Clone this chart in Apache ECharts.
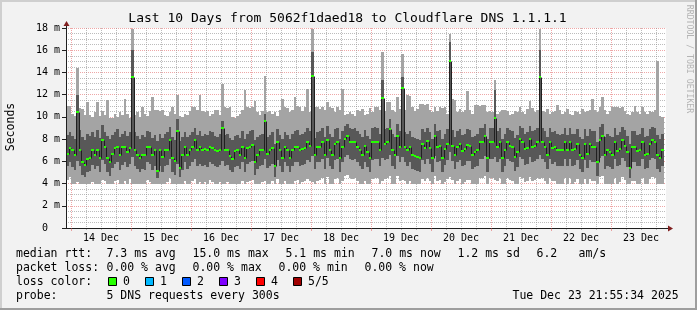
<!DOCTYPE html>
<html><head><meta charset="utf-8">
<script src="https://cdn.jsdelivr.net/npm/echarts@6/dist/echarts.min.js"></script>
<style>html,body{margin:0;padding:0;background:#f2f2f2}#c{width:697px;height:310px}</style>
</head><body><div id="c"></div>
<script>
// ---- data: hourly bins, bin i covers hours [firstBinHour+i, firstBinHour+i+1] relative to 14 Dec 00:00
const firstBinHour = -2;
const dayLabels = ['14 Dec','15 Dec','16 Dec','17 Dec','18 Dec','19 Dec','20 Dec','21 Dec','22 Dec','23 Dec'];

// ping 1 (min), ping 2, median, ping 4, ping 5 (max) in ms
const minRtt = [
4.3,4.6,4.0,4.0,4.1,4.0,4.0,4.0,4.0,4.0, 4.1,4.0,4.0,4.0,4.3,4.2,4.0,4.0,4.0,4.2,
4.3,4.0,4.0,4.2,4.0,4.4,4.0,4.0,4.0,4.0, 4.0,4.0,4.3,4.1,4.0,4.0,4.0,4.0,4.0,4.0,
4.1,4.5,4.0,4.0,4.0,4.0,4.0,4.2,4.0,4.0, 4.2,4.4,4.0,4.1,4.0,4.1,4.0,4.3,4.1,4.0,
4.0,4.1,4.0,4.0,4.1,4.0,4.0,4.0,4.0,4.0, 4.2,4.0,4.1,4.2,4.3,4.0,4.0,4.0,4.1,4.2,
4.0,4.0,4.2,4.0,4.4,4.0,4.0,4.2,4.0,4.0, 4.0,4.2,4.3,4.0,4.1,4.2,4.4,4.2,4.1,4.0,
4.2,4.3,4.5,4.0,4.6,4.0,4.0,4.4,4.5,4.0, 4.2,4.7,4.8,4.5,4.4,4.5,4.2,4.0,4.0,4.2,
4.0,4.0,4.4,4.5,4.5,4.0,4.2,4.4,4.5,4.7, 4.0,4.0,4.7,4.2,4.3,4.2,4.0,4.2,4.0,4.0,
4.0,4.0,4.4,4.2,4.5,4.2,4.0,4.7,4.2,4.3, 4.0,4.1,4.4,4.6,4.3,4.0,4.2,4.4,4.0,4.1,
4.3,4.3,4.0,4.0,4.0,4.5,4.5,4.7,4.0,4.5, 4.5,4.3,4.2,4.5,4.0,4.0,4.5,4.3,4.2,4.0,
4.0,4.6,4.5,4.1,4.2,4.6,4.2,4.3,4.5,4.4, 4.5,4.2,4.0,4.5,4.2,4.2,4.0,4.0,4.0,4.5,
4.0,4.5,4.0,4.1,4.4,4.0,4.0,4.4,4.0,4.4, 4.2,4.2,4.0,4.6,4.7,4.0,4.0,4.0,4.0,4.5,
4.0,4.1,4.6,4.3,4.0,4.0,4.2,4.2,4.0,4.0, 4.5,4.0,4.0,4.4,4.6,4.5,4.0,4.0,4.0
];
const lowRtt = [
5.6,5.9,5.5,5.2,6.0,5.6,4.8,4.6,5.0,5.1, 5.7,5.3,5.6,5.0,6.1,5.8,5.0,4.7,5.4,5.8,
5.9,5.2,5.7,5.9,5.5,5.8,6.4,5.6,5.3,5.0, 5.3,5.2,5.9,5.8,5.2,5.6,4.5,5.6,5.0,5.6,
5.7,6.2,5.0,4.8,5.8,4.6,5.2,5.9,5.3,5.6, 5.9,6.2,5.6,5.8,5.6,5.7,5.5,5.9,5.8,5.6,
5.5,5.7,6.0,5.6,5.7,5.2,5.0,5.5,5.6,5.3, 5.9,5.0,5.8,5.9,6.0,4.8,5.3,5.6,5.7,6.2,
5.4,5.6,5.8,4.6,6.1,5.6,5.0,5.9,5.6,5.0, 5.6,5.9,5.9,5.6,5.7,5.8,6.1,5.9,6.5,5.3,
5.9,5.9,6.2,5.3,6.3,5.6,5.3,6.1,6.2,5.0, 5.9,6.4,6.6,6.2,6.1,6.2,5.9,5.6,5.3,5.9,
5.5,5.0,6.1,6.2,6.2,5.6,6.3,6.1,6.2,6.6, 5.6,5.3,6.5,5.9,6.4,5.9,5.6,5.9,5.3,5.2,
5.1,5.0,6.1,5.8,6.2,5.8,5.0,6.5,5.9,6.0, 5.0,5.7,6.1,6.8,6.0,5.3,5.9,6.1,5.6,5.7,
6.0,6.0,5.3,5.5,5.6,6.2,6.2,6.5,5.0,6.2, 6.2,6.4,5.9,6.2,5.0,5.6,6.2,6.0,5.9,5.1,
5.5,6.4,6.2,5.7,5.8,6.4,5.9,6.0,6.2,6.6, 6.2,5.9,5.3,6.2,5.8,5.9,5.6,5.6,5.6,6.2,
5.6,6.2,5.6,5.7,6.1,5.3,5.0,6.1,5.4,6.1, 5.9,5.9,4.7,6.3,6.5,5.3,5.6,5.5,5.3,6.2,
5.6,5.7,6.3,6.0,5.5,4.5,5.9,5.9,5.6,5.6, 6.2,5.3,5.4,6.1,6.3,6.2,5.3,5.0,5.6
];
const medianRtt = [
6.7,7.2,7.0,6.6,10.4,7.0,5.9,5.7,6.2,6.3, 7.0,6.6,7.0,6.3,7.9,7.3,6.3,5.9,6.7,7.2,
7.3,6.6,7.3,7.3,6.8,7.2,13.6,7.0,6.6,6.3, 6.6,6.6,7.3,7.3,6.6,7.0,5.1,7.0,6.4,7.0,
7.05,7.9,6.3,6.0,8.7,5.4,6.6,7.3,6.6,7.0, 7.3,7.9,7.0,7.3,7.0,7.1,7.0,7.3,7.2,7.0,
6.9,7.05,9.0,7.0,7.0,6.5,6.2,6.9,7.0,6.6, 7.3,6.3,7.2,7.3,7.5,5.9,6.6,7.0,7.0,9.6,
6.7,7.0,7.2,5.6,7.7,7.0,6.3,7.3,7.0,6.3, 7.0,7.3,7.3,7.0,7.1,7.2,7.7,7.4,13.7,6.6,
7.3,7.3,7.7,6.6,7.95,7.0,6.6,7.6,7.7,6.3, 7.3,8.0,8.3,7.7,7.7,7.7,7.3,7.0,6.6,7.4,
6.8,6.3,7.7,7.7,7.7,7.0,11.7,7.6,7.7,8.9, 7.0,6.6,8.3,7.3,12.6,7.3,7.0,7.3,6.6,6.5,
6.4,6.3,7.6,7.2,7.8,7.2,6.3,8.3,7.3,7.4, 6.3,7.1,7.6,15.0,7.4,6.6,7.3,7.6,6.9,7.1,
7.5,7.4,6.6,6.8,7.0,7.7,7.7,8.3,6.3,7.7, 7.7,9.9,7.3,7.7,6.3,7.0,7.7,7.4,7.3,6.4,
6.8,8.0,7.7,7.1,7.2,8.0,7.3,7.4,7.7,13.6, 7.7,7.3,6.6,7.7,7.2,7.3,7.0,7.0,7.0,7.7,
7.0,7.7,7.0,7.1,7.6,6.6,6.3,7.6,6.7,7.6, 7.3,7.3,5.9,7.9,8.3,6.6,7.0,6.8,6.6,7.7,
6.9,7.1,7.9,7.4,6.8,5.4,7.3,7.3,6.9,7.0, 7.7,6.6,6.7,7.6,7.9,7.7,6.6,6.3,7.0
];
const highRtt = [
8.4,8.6,8.3,8.0,12.0,8.8,8.2,7.9,8.5,8.3, 8.6,8.2,8.8,8.1,9.3,8.6,8.3,8.0,8.4,8.6,
8.9,8.2,8.5,8.7,8.3,8.6,16.0,8.6,8.3,8.0, 8.4,8.2,8.7,8.6,8.1,8.4,7.8,8.5,8.1,8.5,
8.6,9.1,8.2,7.9,9.8,7.8,8.2,8.6,8.2,8.4, 8.6,9.0,8.4,8.7,8.3,8.5,8.4,8.7,8.6,8.3,
8.2,8.5,9.6,8.4,8.5,8.1,7.9,8.3,8.4,8.1, 8.7,8.0,8.5,8.7,8.8,7.9,8.2,8.4,8.5,10.3,
8.2,8.4,8.6,7.6,8.9,8.4,8.0,8.6,8.4,8.0, 8.5,8.7,8.8,8.4,8.5,8.6,9.0,8.7,15.8,8.1,
8.6,8.7,9.0,8.2,9.2,8.5,8.2,8.9,9.0,8.0, 8.7,9.2,9.4,9.0,8.9,9.0,8.7,8.5,8.2,8.8,
8.3,8.0,9.0,9.1,9.0,8.5,13.3,8.9,9.0,9.8, 8.5,8.2,9.4,8.7,13.6,8.6,8.5,8.7,8.2,8.1,
8.0,7.9,8.9,8.6,9.0,8.6,8.0,9.4,8.7,8.8, 8.0,8.5,8.9,16.7,8.8,8.2,8.7,8.9,8.4,8.5,
8.9,8.8,8.2,8.3,8.5,9.0,9.0,9.4,8.0,9.0, 9.0,12.4,8.7,9.0,8.0,8.5,9.0,8.8,8.7,8.1,
8.4,9.2,9.0,8.5,8.6,9.2,8.7,8.8,9.0,16.0, 9.0,8.7,8.2,9.0,8.6,8.7,8.5,8.4,8.5,9.0,
8.4,9.0,8.5,8.5,8.9,8.2,8.0,8.9,8.3,8.9, 8.7,8.7,7.7,9.1,9.4,8.2,8.5,8.3,8.2,9.0,
8.4,8.6,9.1,8.8,8.3,7.6,8.7,8.7,8.4,8.5, 9.0,8.2,8.3,8.9,9.1,9.0,8.4,8.0,8.5
];
const maxRtt = [
11.0,11.0,10.3,10.1,14.4,10.8,10.7,10.2,11.3,10.2, 10.0,10.4,11.3,10.1,10.5,10.2,11.5,9.9,9.9,10.3,
10.0,10.4,10.2,11.6,10.3,9.9,17.9,10.2,10.4,10.0, 10.9,10.3,10.1,10.5,11.8,10.6,10.6,10.5,10.6,10.2,
10.1,10.4,10.9,10.3,12.0,10.1,10.0,10.3,10.2,10.5, 10.9,10.9,10.6,12.0,10.5,10.4,10.5,10.1,10.3,10.6,
10.6,10.2,13.0,10.9,10.8,10.9,10.0,9.9,10.1,10.3, 10.6,12.4,10.9,10.8,10.9,11.4,10.4,10.2,10.5,13.7,
10.4,10.5,10.3,10.4,10.1,10.6,11.6,10.9,10.8,10.4, 10.6,11.8,11.0,10.9,10.5,10.9,12.5,10.4,17.9,10.9,
10.9,10.7,10.9,10.6,11.3,10.9,10.8,10.4,10.9,10.6, 12.5,10.2,10.3,10.4,10.3,10.1,10.6,10.5,10.7,10.2,
10.3,10.8,10.4,10.9,10.9,10.6,15.8,10.5,11.3,11.3, 10.6,10.4,11.8,10.7,15.7,10.6,12.0,11.9,10.9,10.5,
10.7,11.2,11.2,11.1,11.2,10.6,10.4,10.9,10.5,10.9, 10.8,10.9,10.3,17.5,11.6,11.5,10.4,10.7,10.4,10.6,
12.3,10.6,10.3,11.1,11.1,11.0,11.1,11.1,10.4,10.5, 10.4,13.3,10.3,10.4,10.6,10.6,10.5,10.2,10.3,10.5,
10.4,10.9,10.4,10.3,10.7,11.4,10.8,10.4,10.6,17.9, 10.5,10.4,10.7,10.3,10.4,10.5,11.1,10.6,10.3,10.4,
10.7,10.3,10.2,10.5,10.4,10.3,10.7,10.4,10.5,10.6, 11.65,10.6,10.4,10.9,11.8,10.6,10.3,10.5,10.9,10.9,
10.9,10.8,10.9,10.5,10.3,10.2,10.4,11.0,10.4,10.3, 10.9,10.4,10.3,10.5,10.4,10.6,15.0,10.1,10.0
];

// legend text
const legendRows = [
  [['median rtt:',16],['7.3 ms avg',106.5],['15.0 ms max',192.5],['5.1 ms min',285.5],['7.0 ms now',371.5],['1.2 ms sd',457.5],['6.2',536.5],['am/s',578.5]],
  [['packet loss:',16],['0.00 % avg',106.5],['0.00 % max',192.5],['0.00 % min',278.5],['0.00 % now',364.5]],
  [['loss color:',16]],
  [['probe:',16],['5 DNS requests every 300s',106.5],['Tue Dec 23 21:55:34 2025',512.5]]
];
const lossLabels = ['0','1','2','3','4','5/5'];
const lossColors = ['#26ff00','#00b8ff','#0059ff','#7e00ff','#ff0000','#a00000'];

// ---- build
const MONO = '"DejaVu Sans Mono", monospace';
const rows = medianRtt.map((m, i) => [firstBinHour + i, firstBinHour + i + 1, minRtt[i], lowRtt[i], m, highRtt[i], maxRtt[i]]);
const dayHours = dayLabels.map((_, d) => d * 24);
const noonHours = dayLabels.map((_, d) => d * 24 + 12);
const sixHours = [];
for (let h = 6; h < 238; h += 6) if (h % 24 !== 0) sixHours.push(h);

function smoke(loDim, hiDim, color) {
  return function (params, api) {
    const cs = params.coordSys;
    const a = api.coord([api.value(0), api.value(hiDim)]);
    const b = api.coord([api.value(1), api.value(loDim)]);
    const x0 = Math.max(Math.round(a[0]), cs.x + 1);
    const x1 = Math.min(Math.round(b[0]), cs.x + cs.width);
    const y0 = Math.max(Math.round(a[1]), cs.y);
    const y1 = Math.round(b[1]);
    return { type: 'rect', shape: { x: x0, y: y0, width: x1 - x0, height: y1 - y0 }, style: { fill: color } };
  };
}

function vgrid(color) {
  return function (params, api) {
    const cs = params.coordSys;
    const p = api.coord([api.value(0), 0]);
    const x = Math.round(p[0]) + 0.5;
    return { type: 'line', shape: { x1: x, y1: cs.y, x2: x, y2: cs.y + cs.height },
      style: { stroke: color, lineWidth: 1, lineDash: [1, 1] } };
  };
}

const GRID_MINOR = 'rgba(143,143,143,0.6)';
const GRID_MAJOR = 'rgba(222,79,79,0.5)';

const chart = echarts.init(document.getElementById('c'), null, { renderer: 'canvas' });
chart.setOption({
  backgroundColor: '#f2f2f2',
  animation: false,
  grid: { left: 66, top: 28, width: 600, height: 200, show: true, backgroundColor: '#ffffff', borderWidth: 0 },
  xAxis: [{
    type: 'value', min: -2, max: 238, z: 10,
    axisLine: { show: true, onZero: false, lineStyle: { color: '#1f1f1f', width: 1 } },
    axisTick: { show: true, length: 3, customValues: dayHours, lineStyle: { color: GRID_MAJOR } },
    axisLabel: { show: true, customValues: noonHours, margin: 5, fontFamily: MONO, fontSize: 10, color: '#000',
      formatter: v => dayLabels[Math.round((v - 12) / 24)] },
    splitLine: { show: false }
  }, {
    type: 'value', min: -2, max: 238, z: 9, position: 'bottom',
    axisLine: { show: false, onZero: false },
    axisTick: { show: true, length: 2, customValues: sixHours, lineStyle: { color: GRID_MINOR } },
    axisLabel: { show: false }, splitLine: { show: false }
  }],
  yAxis: [{
    type: 'value', min: 0, max: 18, interval: 2, z: 0,
    axisLine: { show: false, onZero: false },
    axisTick: { show: false }, axisLabel: { show: false },
    splitLine: { show: true, lineStyle: { color: GRID_MAJOR, type: [1, 1], width: 1 } },
    minorTick: { show: false, splitNumber: 4 },
    minorSplitLine: { show: true, lineStyle: { color: GRID_MINOR, type: [1, 1], width: 1 } }
  }, {
    type: 'value', min: 0, max: 18, interval: 2, z: 10, position: 'left',
    axisLine: { show: true, onZero: false, lineStyle: { color: '#1f1f1f', width: 1 } },
    axisTick: { show: true, length: 4, lineStyle: { color: '#1f1f1f' } },
    axisLabel: { margin: 6, fontFamily: MONO, fontSize: 10, color: '#000',
      formatter: v => v === 0 ? '0  ' : v + ' m' },
    splitLine: { show: false }
  }],
  series: [
    { type: 'custom', name: 'day grid', data: dayHours.map(h => [h]), z: 0, silent: true,
      encode: { x: 0 }, renderItem: vgrid(GRID_MAJOR) },
    { type: 'custom', name: 'hour grid', data: sixHours.map(h => [h]), z: 0, silent: true,
      encode: { x: 0 }, renderItem: vgrid(GRID_MINOR) },
    { type: 'custom', name: 'smoke outer', data: rows, z: 1, renderItem: smoke(2, 6, '#a4a4a4'),
      encode: { x: [0, 1], y: [2, 6] }, silent: true },
    { type: 'custom', name: 'smoke inner', data: rows, z: 2, renderItem: smoke(3, 5, '#585858'),
      encode: { x: [0, 1], y: [3, 5] }, silent: true },
    { type: 'custom', name: 'median line', data: rows, z: 3, silent: true,
      encode: { x: [0, 1], y: 4 },
      renderItem: function (params, api) {
        const cs = params.coordSys;
        const i = params.dataIndex;
        const s = api.coord([api.value(0), api.value(4)]);
        const e = api.coord([api.value(1), api.value(4)]);
        const x0 = Math.max(Math.round(s[0]), cs.x + 1);
        const x1 = Math.round(e[0]);
        const y = Math.round(s[1]) + 0.5;
        const children = [{ type: 'line', shape: { x1: x0, y1: y, x2: x1, y2: y }, style: { stroke: '#202020', lineWidth: 1 } }];
        if (i > 0) {
          const pv = api.coord([api.value(0), medianRtt[i - 1]]);
          const py = Math.round(pv[1]) + 0.5;
          children.push({ type: 'line', shape: { x1: x0 + 0.5, y1: py, x2: x0 + 0.5, y2: y }, style: { stroke: '#202020', lineWidth: 1 } });
        }
        return { type: 'group', children };
      } },
    { type: 'custom', name: 'median', data: rows, z: 4, silent: true,
      encode: { x: [0, 1], y: 4 },
      renderItem: function (params, api) {
        const cs = params.coordSys;
        const s = api.coord([api.value(0), api.value(4)]);
        const e = api.coord([api.value(1), api.value(4)]);
        const x0 = Math.max(Math.round(s[0]), cs.x + 1);
        const x1 = Math.round(e[0]);
        const y = Math.round(s[1]);
        return { type: 'rect', shape: { x: x0, y: y - 1, width: x1 - x0, height: 2 }, style: { fill: '#26ff00' } };
      } }
  ]
});

// ---- decorations and legend
const g = [];
g.push({ type: 'rect', shape: { x: 0, y: 0, width: 697, height: 2 }, style: { fill: '#cfcfcf' }, silent: true });
g.push({ type: 'rect', shape: { x: 0, y: 0, width: 2, height: 310 }, style: { fill: '#cfcfcf' }, silent: true });
g.push({ type: 'rect', shape: { x: 0, y: 308, width: 697, height: 2 }, style: { fill: '#9e9e9e' }, silent: true });
g.push({ type: 'rect', shape: { x: 695, y: 0, width: 2, height: 310 }, style: { fill: '#9e9e9e' }, silent: true });
g.push({ type: 'line', shape: { x1: 66.5, y1: 28, x2: 66.5, y2: 24 }, style: { stroke: '#1f1f1f', lineWidth: 1 }, z: 20 });
g.push({ type: 'polygon', shape: { points: [[63.5, 26], [69.5, 26], [66.5, 21]] }, style: { fill: '#801f1f' }, z: 20 });
g.push({ type: 'line', shape: { x1: 666, y1: 228.5, x2: 669, y2: 228.5 }, style: { stroke: '#1f1f1f', lineWidth: 1 }, z: 20 });
g.push({ type: 'polygon', shape: { points: [[668, 225.5], [668, 231.5], [673, 228.5]] }, style: { fill: '#801f1f' }, z: 20 });
g.push({ type: 'line', shape: { x1: 62, y1: 228.5, x2: 66, y2: 228.5 }, style: { stroke: '#1f1f1f', lineWidth: 1 }, z: 20 });
g.push({ type: 'text', x: 347.5, y: 19, z: 20, style: { text: 'Last 10 Days from 5062f1daed18 to Cloudflare DNS 1.1.1.1',
  font: '13px ' + MONO, fill: '#000', align: 'center', verticalAlign: 'middle' } });
g.push({ type: 'text', x: 11, y: 127, rotation: Math.PI / 2, z: 20, style: { text: 'Seconds',
  font: '11.5px ' + MONO, fill: '#000', align: 'center', verticalAlign: 'middle' } });
g.push({ type: 'text', x: 689, y: 59, rotation: -Math.PI / 2, z: 20, style: { text: 'RRDTOOL / TOBI OETIKER',
  font: '8.2px ' + MONO, fill: '#b4b4b4', align: 'center', verticalAlign: 'middle' } });
const rowY = [254, 268, 282, 296];
legendRows.forEach((row, r) => row.forEach(([t, x]) => {
  g.push({ type: 'text', x: x, y: rowY[r], z: 20, style: { text: t, font: '11.5px ' + MONO, fill: '#000', align: 'left', verticalAlign: 'middle' } });
}));
lossLabels.forEach((lab, k) => {
  const bx = 108.5 + k * 37;
  g.push({ type: 'rect', z: 20, shape: { x: bx, y: 277.5, width: 8, height: 8 }, style: { fill: lossColors[k], stroke: '#000', lineWidth: 1 } });
  g.push({ type: 'text', x: bx + 14.5, y: rowY[2], z: 20, style: { text: lab, font: '11.5px ' + MONO, fill: '#000', align: 'left', verticalAlign: 'middle' } });
});
chart.setOption({ graphic: { elements: g } });
</script></body></html>
